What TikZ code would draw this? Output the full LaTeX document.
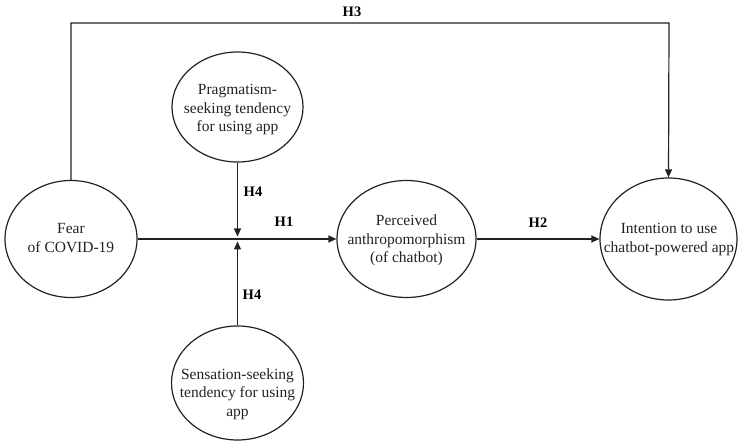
\documentclass[tikz,border=0pt]{standalone}
\usepackage{fontspec}
\setmainfont{Liberation Serif}
\usetikzlibrary{shapes.geometric,arrows.meta}

\tikzset{
  construct/.style={ellipse, draw=ink, line width=1.2pt, inner sep=0pt},
  ctext/.style={align=center, font=\fontsize{15.5}{18.5}\selectfont, text=ink, inner sep=0pt},
  hyp/.style={font=\fontsize{14.5}{17}\selectfont\bfseries, text=black, inner sep=0pt},
  path/.style={draw=ink, line width=1.2pt},
  arr/.style={path, -{Triangle[length=8pt,width=7pt]}},
}
\definecolor{ink}{HTML}{222222}

\begin{document}
\begin{tikzpicture}[x=1pt, y=-1pt]
  \useasboundingbox (0,0) rectangle (738,443);

  % constructs
  \node[construct, minimum width=132pt, minimum height=117pt] (fear)   at (71,239)    {};
  \node[construct, minimum width=131pt, minimum height=110pt] (prag)   at (237.5,107) {};
  \node[construct, minimum width=139pt, minimum height=117pt] (perc)   at (406.5,239) {};
  \node[construct, minimum width=137pt, minimum height=122pt] (intent) at (668.5,239) {};
  \node[construct, minimum width=132pt, minimum height=114pt] (sens)   at (237.5,383) {};

  % construct labels
  \node[ctext] (fear-t)   at (71,238)    {Fear\\of COVID-19};
  \node[ctext] (prag-t)   at (237.5,110) {Pragmatism-\\seeking tendency\\for using app};
  \node[ctext] (perc-t)   at (406.5,240.5) {Perceived\\anthropomorphism\\(of chatbot)};
  \node[ctext] (intent-t) at (669,239.5) {Intention to use\\chatbot-powered app};
  \node[ctext] (sens-t)   at (237.5,394) {Sensation-seeking\\tendency for using\\app};

  % helper points
  \coordinate (topl) at (71,23);
  \coordinate (topr) at (669,23);
  \coordinate (modup) at (237.5,236.5);
  \coordinate (moddn) at (237.5,241.5);

  % paths
  \draw[arr] (fear.north) -- (topl) -- (topr) -- (intent.north);
  \draw[arr] (fear.east) -- (perc.west);
  \draw[arr] (perc.east) -- (intent.west);
  \draw[arr] (prag.south) -- (modup);
  \draw[arr] (sens.north) -- (moddn);

  % hypothesis labels
  \node[hyp] (h3)  at (352,12)  {H3};
  \node[hyp] (h1)  at (284,222) {H1};
  \node[hyp] (h2)  at (538,223) {H2};
  \node[hyp] (h4a) at (253,192) {H4};
  \node[hyp] (h4b) at (252,295) {H4};
\end{tikzpicture}
\end{document}
